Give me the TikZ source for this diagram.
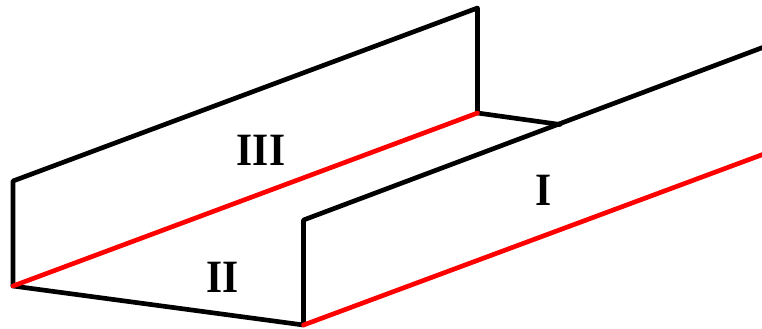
\documentclass[tikz,border=0pt]{standalone}
\usepackage{graphicx}
\usepackage{fontspec}
\setmainfont{Liberation Serif}
\newcommand{\tallab}[1]{\scalebox{1}[1.12]{\bfseries\fontsize{31}{31}\selectfont #1}}
\tikzset{blk/.style={draw=black,line width=3.5pt,line cap=round,line join=round},
redline/.style={draw=red,line width=3.5pt,line cap=round},
lab/.style={inner sep=0pt,text=black}}
\begin{document}
\begin{tikzpicture}[x=0.75pt,y=-0.75pt]
\useasboundingbox[fill=white] (0,0) rectangle (762,328);
\coordinate (a) at (13,286);
\coordinate (b) at (13,181);
\coordinate (c) at (477.5,8);
\coordinate (d) at (477.5,113);
\coordinate (e) at (303.5,325);
\coordinate (f) at (303.5,220);
\coordinate (g) at (764,47);
\coordinate (h) at (764,154);
\coordinate (i) at (560,124.5);
\draw[blk] (a) -- (b) -- (c) -- (d) -- (i);
\draw[blk] (a) -- (e) -- (f) -- (g);
\draw[redline] (a) -- (d);
\draw[redline] (e) -- (h);
\node[lab] (t3) at (261,150) {\tallab{III}};
\node[lab] (t2) at (223,277) {\tallab{II}};
\node[lab] (t1) at (543.5,190) {\tallab{I}};
\end{tikzpicture}
\end{document}
